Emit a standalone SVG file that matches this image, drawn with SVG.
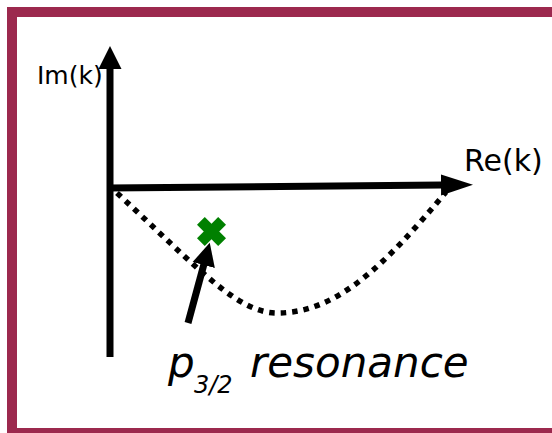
<svg xmlns="http://www.w3.org/2000/svg" width="552" height="433" viewBox="0 0 552 433">
<style>
.ax{stroke:#000;stroke-width:7;fill:none}
.lbl{font-family:"DejaVu Sans",sans-serif;fill:#000}
.it{font-style:italic}
</style>
<defs>
<marker id="head" markerUnits="userSpaceOnUse" markerWidth="24" markerHeight="24" refX="1" refY="11.5" orient="auto" viewBox="0 0 24 23">
<path d="M0,0 L23,11.5 L0,23 z" fill="#000"/>
</marker>
<marker id="headR" markerUnits="userSpaceOnUse" markerWidth="33" markerHeight="22" refX="1" refY="10.5" orient="auto" viewBox="0 0 33 21">
<path d="M0,0 L32,10.5 L0,21 z" fill="#000"/>
</marker>
</defs>
<rect x="0" y="0" width="552" height="433" fill="#fff"/>
<rect id="frame" x="12" y="12" width="560" height="421" fill="#fff" stroke="#9c294e" stroke-width="10"/>
<g id="connectors">
<path id="curve" d="M117,193 C197,267 237,313 277,313 C337,313 385,265 446,192" fill="none" stroke="#000" stroke-width="5.5" stroke-dasharray="5.5,6"/>
<line class="ax" x1="110" y1="357" x2="110" y2="68" marker-end="url(#head)"/>
<line class="ax" x1="108" y1="188" x2="442" y2="185" marker-end="url(#headR)"/>
<line class="ax" x1="188" y1="323" x2="204" y2="264" marker-end="url(#head)"/>
</g>
<g id="resonance-point" transform="translate(211.5,231.5)">
<rect x="-15" y="-5.5" width="30" height="11" fill="#008000" transform="rotate(45)"/>
<rect x="-15" y="-5.5" width="30" height="11" fill="#008000" transform="rotate(-45)"/>
</g>
<g id="label-im"><text class="lbl" x="37" y="84" font-size="25">Im(k)</text></g>
<g id="label-re"><text class="lbl" x="464" y="171" font-size="30">Re(k)</text></g>
<g id="label-res">
<text class="lbl it" x="168" y="377" font-size="42">p</text>
<text class="lbl it" x="194" y="393" font-size="24">3/2</text>
<text class="lbl it" x="250" y="377" font-size="42">resonance</text>
</g>
</svg>
